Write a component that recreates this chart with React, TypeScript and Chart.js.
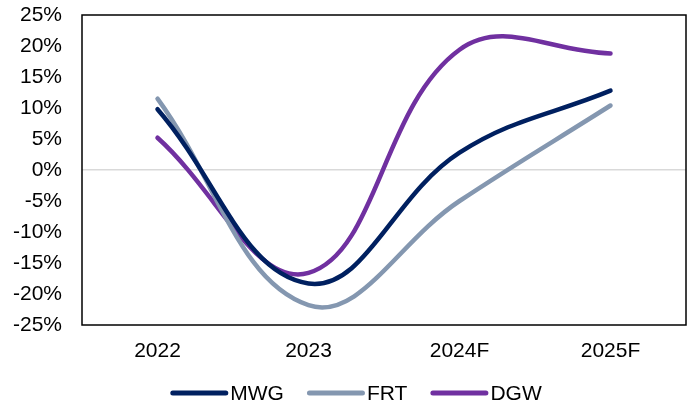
import React, { useEffect, useRef } from "react";
import { Chart, registerables } from "chart.js";

Chart.register(...registerables);

const categories = ["2022", "2023", "2024F", "2025F"];
const mwgValues = [9.8, -18.3, 2.8, 12.8];
const frtValues = [11.5, -21.8, -5.0, 10.4];
const dgwValues = [5.2, -16.6, 19.4, 18.8];
const seriesNames = ["MWG", "FRT", "DGW"];
const seriesColors = ["#002060", "#8497B0", "#7030A0"];
const yTickMin = -25;
const yTickMax = 25;
const yTickStep = 5;

const FONT = "'Liberation Sans', Arial, sans-serif";
const FONT_SIZE = 21;

const framePlugin = {
  id: "frame",
  afterDatasetsDraw(chart: any) {
    const { ctx, chartArea } = chart;
    ctx.save();
    ctx.strokeStyle = "#000";
    ctx.lineWidth = 1.5;
    ctx.strokeRect(chartArea.left, chartArea.top, chartArea.right - chartArea.left, chartArea.bottom - chartArea.top);
    ctx.restore();
  },
};

const legendPlugin = {
  id: "lineLegend",
  afterDraw(chart: any) {
    const { ctx } = chart;
    const swatch = 58;
    const textGap = 2;
    const itemGap = 23;
    const y = 393;
    const centerX = 356;
    ctx.save();
    ctx.font = `${FONT_SIZE}px ${FONT}`;
    const items = chart.data.datasets.map((d: any) => ({
      text: d.label,
      color: d.borderColor,
      w: swatch + textGap + ctx.measureText(d.label).width,
    }));
    const total = items.reduce((a: number, it: any) => a + it.w, 0) + itemGap * (items.length - 1);
    let x = centerX - total / 2;
    items.forEach((it: any) => {
      ctx.strokeStyle = it.color;
      ctx.lineWidth = 5;
      ctx.lineCap = "round";
      ctx.beginPath();
      ctx.moveTo(x + 2.5, y);
      ctx.lineTo(x + swatch - 2.5, y);
      ctx.stroke();
      ctx.fillStyle = "#000";
      ctx.textBaseline = "middle";
      ctx.textAlign = "left";
      ctx.fillText(it.text, x + swatch + textGap, y + 1);
      x += it.w + itemGap;
    });
    ctx.restore();
  },
};

export default function App() {
  const ref = useRef<HTMLCanvasElement>(null);
  useEffect(() => {
    document.body.style.margin = "0";
    const values = [mwgValues, frtValues, dgwValues];
    const chart = new Chart(ref.current as HTMLCanvasElement, {
      type: "line",
      data: {
        labels: categories,
        datasets: seriesNames.map((name, i) => ({
          label: name,
          data: values[i],
          borderColor: seriesColors[i],
          backgroundColor: seriesColors[i],
          borderWidth: 4.5,
          borderCapStyle: "round",
          pointRadius: 0,
          tension: 0.4,
          fill: false,
        })),
      },
      options: {
        responsive: false,
        animation: false,
        layout: { padding: { left: 0, right: 7, top: 15, bottom: 46 } },
        plugins: {
          tooltip: { enabled: false },
          legend: { display: false },
        },
        scales: {
          x: {
            type: "category",
            offset: true,
            grid: { display: false, drawTicks: false },
            border: { display: false },
            ticks: { color: "#000", font: { family: FONT, size: FONT_SIZE }, padding: 14, maxRotation: 0 },
            afterFit: (s: any) => {
              s.height = 34;
            },
          },
          y: {
            min: yTickMin,
            max: yTickMax,
            grid: {
              drawTicks: true,
              tickLength: 20,
              tickColor: "rgba(0,0,0,0)",
              lineWidth: 1.5,
              color: (ctx: any) => (ctx.tick && ctx.tick.value === 0 ? "#D9D9D9" : "rgba(0,0,0,0)"),
            },
            border: { display: false },
            ticks: {
              stepSize: yTickStep,
              color: "#000",
              font: { family: FONT, size: FONT_SIZE },
              padding: 0,
              callback: (v: any) => v + "%",
            },
            afterFit: (s: any) => {
              s.width = 82;
            },
          },
        },
      },
      plugins: [framePlugin, legendPlugin],
    } as any);
    return () => chart.destroy();
  }, []);
  return (
    <div style={{ width: 693, height: 405 }}>
      <canvas ref={ref} width={693} height={405} />
    </div>
  );
}
